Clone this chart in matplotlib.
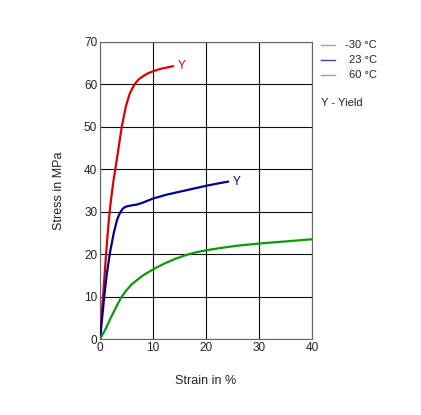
import matplotlib
matplotlib.use("Agg")
import matplotlib.pyplot as plt
from matplotlib.lines import Line2D

plt.rcParams["font.family"] = ["Liberation Sans", "DejaVu Sans"]

# -30 °C curve
strain_m30 = [0, 0.3, 0.6, 1.06, 1.4, 1.7, 2.0, 2.3, 2.6, 2.95, 3.5, 4.1, 4.9,
              5.6, 6.5, 7.3, 8.2, 9.0, 10.0, 11.5, 13.8]
stress_m30 = [0, 5.5, 10.5, 18.5, 24, 28.5, 32, 35, 37.8, 40.5, 45, 50, 54.9,
              57.8, 60, 61.2, 62, 62.6, 63.1, 63.7, 64.3]

# 23 °C curve
strain_23 = [0, 0.3, 0.8, 1.3, 1.9, 2.6, 3.2, 3.6, 3.9, 4.3, 4.7, 5.2, 6.0, 7.0,
             8.0, 9.0, 10.0, 12.5, 15.0, 17.5, 20.0, 22.0, 24.2]
stress_23 = [0, 3.7, 10, 15.5, 20.5, 25, 28, 29.3, 30, 30.7, 31.1, 31.3, 31.5,
             31.7, 32.1, 32.6, 33.1, 34.0, 34.7, 35.4, 36.1, 36.6, 37.1]

# 60 °C curve
strain_60 = [0, 0.5, 1.0, 2.0, 3.0, 4.0, 5.0, 6.0, 6.6, 8.0, 10.0, 12.0, 14.0,
             16.0, 18.0, 20.0, 23.0, 26.0, 30.0, 34.0, 37.0, 40.0]
stress_60 = [0, 1.1, 2.2, 4.9, 7.4, 9.8, 11.5, 12.9, 13.5, 14.9, 16.4, 17.7, 18.8,
             19.7, 20.4, 20.9, 21.5, 22.0, 22.5, 22.9, 23.2, 23.5]

series_labels = ["-30 °C", "23 °C", "60 °C"]
curve_colors = ["#dd0000", "#00008c", "#0a9a0a"]
legend_colors = ["#f08888", "#4040a0", "#5ccc5c"]

x_ticks = [0, 10, 20, 30, 40]
y_ticks = [0, 10, 20, 30, 40, 50, 60, 70]

fig = plt.figure(figsize=(4.21, 4.15), dpi=100)
ax = fig.add_axes([100 / 421, 1 - 339 / 415, 212 / 421, 297 / 415])

curves = [(strain_m30, stress_m30), (strain_23, stress_23), (strain_60, stress_60)]
for (xs, ys), c in zip(curves, curve_colors):
    ax.plot(xs, ys, color=c, lw=1.6, solid_capstyle="round",
            solid_joinstyle="round", zorder=3)

# Yield markers at end of the first two curves
for (xs, ys), c in zip(curves[:2], curve_colors[:2]):
    ax.annotate("Y", (xs[-1], ys[-1]), xytext=(3, 0), textcoords="offset points",
                color=c, fontsize=8.5, va="center", ha="left")

ax.set_xlim(0, 40)
ax.set_ylim(0, 70)
ax.set_xticks(x_ticks)
ax.set_yticks(y_ticks)
ax.tick_params(length=0, labelsize=8.5, colors="#222222", pad=2)
ax.grid(True, color="#111111", lw=0.8)
ax.set_axisbelow(True)
for s in ax.spines.values():
    s.set_color("#666666")
    s.set_linewidth(0.8)

ax.set_xlabel("Strain in %", fontsize=9, labelpad=15, color="#222222")
ax.set_ylabel("Stress in MPa", fontsize=9, labelpad=14, color="#222222")

# legend drawn outside the axes on the right
for i, (lab, c) in enumerate(zip(series_labels, legend_colors)):
    yy = 1 - (45 + 15 * i) / 415
    fig.add_artist(Line2D([321 / 421, 335 / 421], [yy, yy], color=c, lw=1))
    fig.text(377 / 421, yy, lab, ha="right", va="center", fontsize=8, color="#222222")
fig.text(321 / 421, 1 - 103 / 415, "Y - Yield", ha="left", va="center",
         fontsize=8, color="#222222")

fig.savefig("out.png", dpi=100)
